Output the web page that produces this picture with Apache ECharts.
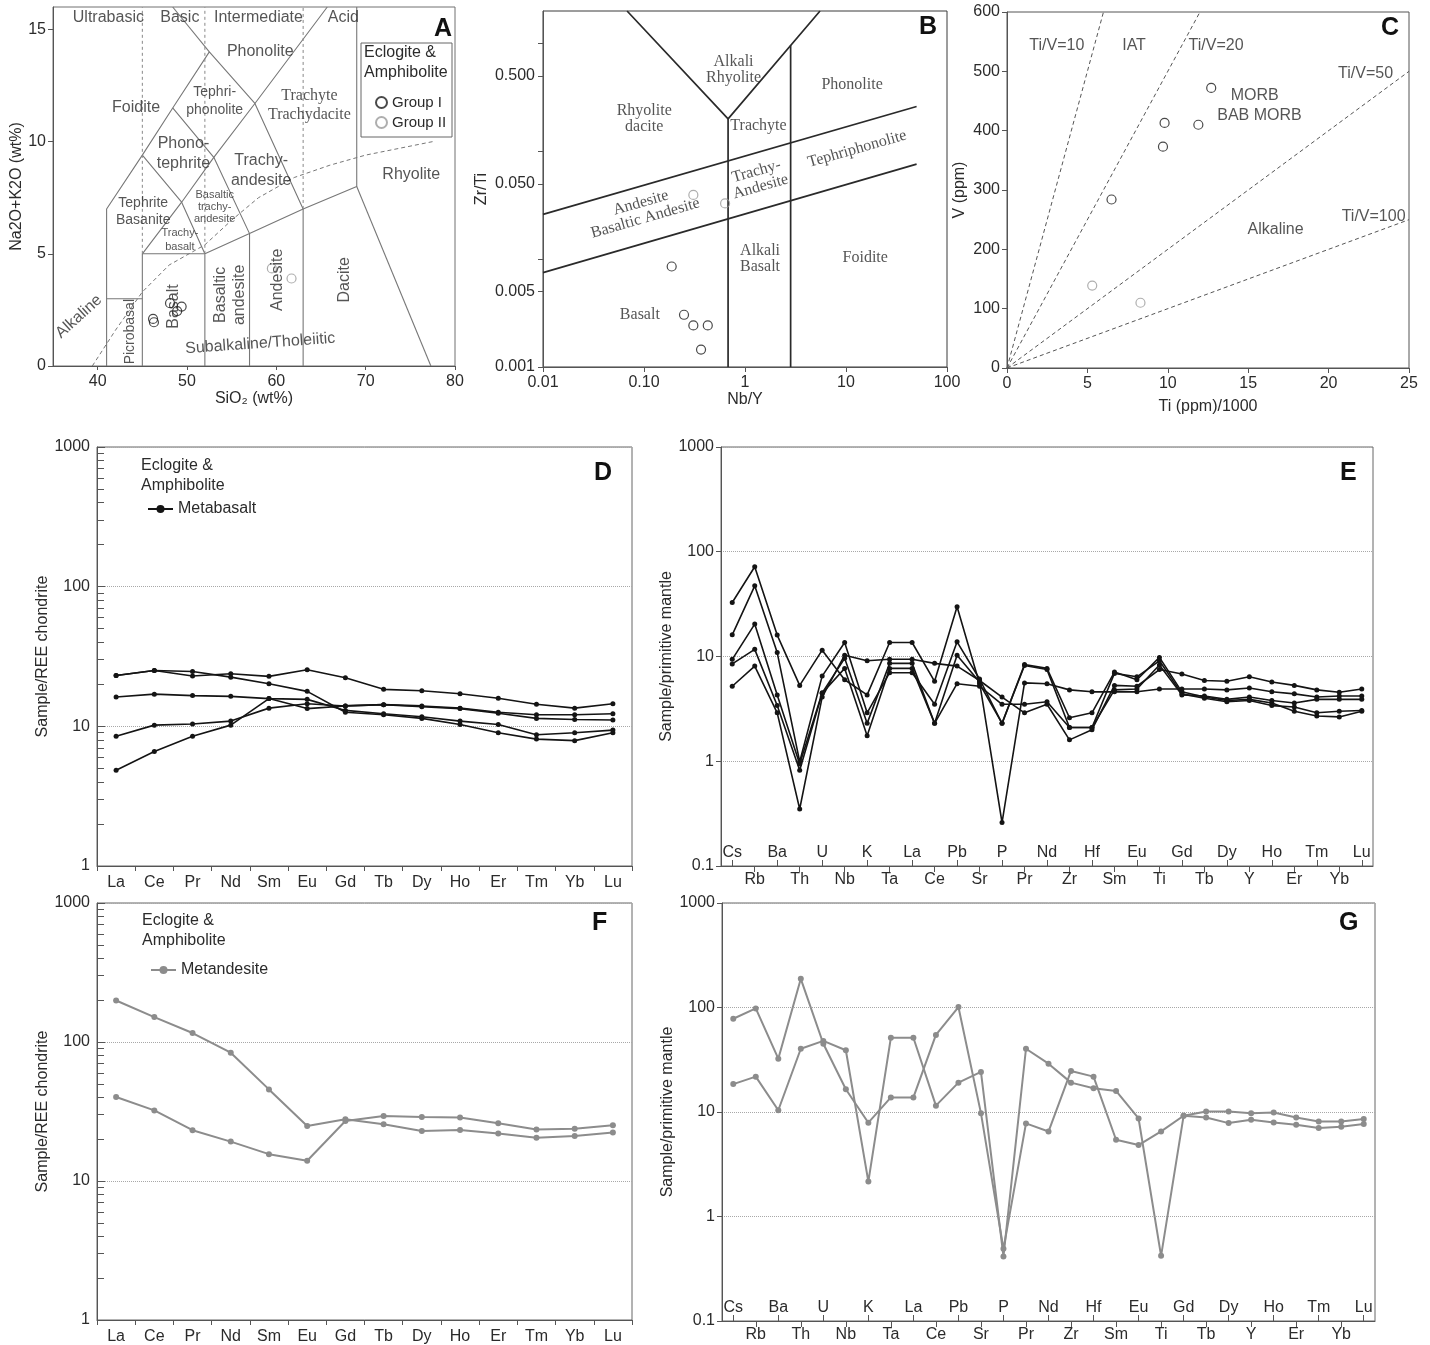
<!DOCTYPE html>
<html><head><meta charset="utf-8">
<script src="https://cdn.jsdelivr.net/npm/echarts@6/dist/echarts.min.js"></script>
<style>html,body{margin:0;padding:0;background:#fff}#c{width:1430px;height:1345px}</style>
</head><body><div id="c"></div>
<script>
// ================= DATA =================
// Panel A : TAS diagram (SiO2 vs Na2O+K2O)
const tasGroupI = [[46.2,2.1],[46.3,1.95],[48.1,2.8],[49.4,2.65],[48.9,2.45]];
const tasGroupII = [[59.5,4.35],[61.7,3.9]];
const tasBoundaries = [
  [[41,0],[41,7],[45,9.4],[48.4,11.5],[52.5,14],[57.6,11.7],[63,7]],
  [[41,3],[45,3]],
  [[45,0],[45,5],[52,5]],
  [[45,5],[49.4,7.3],[53,9.3],[57.6,11.7],[65.7,16]],
  [[45,9.4],[49.4,7.3],[52,5]],
  [[48.4,11.5],[53,9.3],[57,5.9]],
  [[52,0],[52,5],[57,5.9],[63,7],[69,8],[69,16]],
  [[57,0],[57,5.9]],
  [[63,0],[63,7]],
  [[69,8],[77.3,0]],
  [[52.5,14],[48.4,16]]
];
const tasSilicaDivisions = [[[45,5],[45,16]],[[52,5],[52,16]],[[63,7],[63,16]]];
const tasAlkalineDivide = [[39.4,0],[42,1.6],[45,3.3],[48,4.5],[52,5.4],[55,6.5],[58,7.5],[62,8.4],[66,8.95],[70,9.4],[77.5,10]];
const tasClassNames = [['Ultrabasic',41.2,15.55],['Basic',49.2,15.55],['Intermediate',58.0,15.55],['Acid',67.5,15.55]];
const tasFieldNames = [
  ['Phonolite',58.2,14.0],['Foidite',44.3,11.5],['Tephri-\nphonolite',53.1,11.8],
  ['Trachyte\nTrachydacite',63.7,11.6],['Phono-\ntephrite',49.6,9.45],['Trachy-\nandesite',58.3,8.72],
  ['Rhyolite',75.1,8.53],['Tephrite\nBasanite',45.1,6.89],['Basaltic\ntrachy-\nandesite',53.1,7.07],
  ['Trachy-\nbasalt',49.2,5.62],['Picrobasal',43.6,1.53],['Basalt',48.5,2.65],
  ['Basaltic\nandesite',54.8,3.17],['Andesite',60.1,3.84],['Dacite',67.65,3.84],
  ['Alkaline',37.9,2.2],['Subalkaline/Tholeiitic',58.2,1.0]
];

// Panel B : Zr/Ti vs Nb/Y
const wfGroupI = [[0.188,0.00855],[0.249,0.00305],[0.308,0.00243],[0.428,0.00243],[0.367,0.00145]];
const wfGroupII = [[0.308,0.0394],[0.635,0.0329]];
const wfBoundaries = [
  [[0.068,2],[0.68,0.2],[5.53,2]],
  [[0.68,0.2],[0.68,0.001]],
  [[2.83,0.957],[2.83,0.001]],
  [[0.01,0.026],[50,0.26]],
  [[0.01,0.0075],[50,0.076]]
];
const wfFieldNames = [
  ['Alkali\nRhyolite',0.77,0.575],['Rhyolite\ndacite',0.1005,0.199],['Phonolite',11.5,0.412],
  ['Trachyte',1.36,0.172],['Andesite\nBasaltic Andesite',0.098,0.0282],['Trachy-\nAndesite',1.36,0.0553],
  ['Tephriphonolite',12.9,0.105],['Alkali\nBasalt',1.41,0.0101],['Foidite',15.5,0.0103],['Basalt',0.091,0.00305]
];
const wfXTicks = [0.01,0.1,1,10,100];
const wfYLabels = [0.001,0.005,0.05,0.5];
const wfYTicks = [0.001,0.005,0.01,0.05,0.1,0.5,1];

// Panel C : V vs Ti/1000
const tivGroupI = [[6.5,284],[9.8,413],[9.7,373],[11.9,410],[12.7,472]];
const tivGroupII = [[5.3,139],[8.3,110]];
const tiv10 = [[0,0],[6,600]];
const tiv20 = [[0,0],[12,600]];
const tiv50 = [[0,0],[25,500]];
const tiv100 = [[0,0],[25,250]];
const tivFieldNames = [
  ['Ti/V=10',3.1,544],['IAT',7.9,544],['Ti/V=20',13.0,544],['Ti/V=50',22.3,497],
  ['MORB',15.4,459],['BAB MORB',15.7,426],['Alkaline',16.7,234],['Ti/V=100',22.8,256]
];

// Panel D / F : chondrite-normalised REE
const REE = ['La','Ce','Pr','Nd','Sm','Eu','Gd','Tb','Dy','Ho','Er','Tm','Yb','Lu'];
const reeBasalt1 = [23.1,25.1,22.9,23.8,22.8,25.4,22.3,18.4,18.0,17.1,15.9,14.4,13.5,14.5];
const reeBasalt2 = [23.1,25.1,24.7,22.5,20.2,17.8,12.6,12.1,11.4,10.3,9.0,8.1,7.9,9.0];
const reeBasalt3 = [16.2,17.0,16.6,16.4,15.8,15.6,13.0,12.3,11.7,10.9,10.3,8.7,9.0,9.4];
const reeBasalt4 = [8.5,10.2,10.4,10.9,13.5,14.5,14.0,14.3,14.0,13.5,12.6,12.1,12.1,12.3];
const reeBasalt5 = [4.85,6.6,8.5,10.2,15.8,13.4,14.0,14.3,13.8,13.4,12.4,11.4,11.2,11.1];
const reeAndesite1 = [199,151,116,83.8,45.6,24.9,27.8,25.6,22.9,23.3,22.0,20.5,21.1,22.3];
const reeAndesite2 = [40.2,32.2,23.2,19.2,15.6,14.0,27.0,29.4,28.9,28.6,26.0,23.5,23.8,25.2];
const reeYLabels = [1,10,100,1000];
const reeYMinorTicks = [2,3,4,5,6,7,8,9,20,30,40,50,60,70,80,90,200,300,400,500,600,700,800,900];

// Panel E / G : primitive-mantle-normalised spider diagrams
const ELEM = ['Cs','Rb','Ba','Th','U','Nb','K','Ta','La','Ce','Pb','Sr','P','Pr','Nd','Zr','Hf','Sm','Eu','Ti','Gd','Tb','Dy','Y','Ho','Er','Tm','Yb','Lu'];
const pmBasalt1 = [32.8,71.9,16.0,5.3,11.5,6.0,4.3,13.6,13.6,5.8,29.8,5.5,2.3,8.4,7.7,2.6,2.9,7.1,6.0,9.8,4.6,4.1,3.8,3.9,3.6,3.0,2.7,2.65,3.0];
const pmBasalt2 = [16.1,47.3,10.9,0.99,6.5,13.6,2.9,7.0,7.0,3.5,13.8,6.1,2.3,8.2,7.5,2.1,2.1,6.9,6.4,9.1,4.4,4.0,3.7,3.8,3.4,3.3,2.9,3.0,3.05];
const pmBasalt3 = [9.4,20.4,4.3,0.94,4.5,9.6,2.3,8.6,8.6,2.3,10.3,5.7,0.26,5.6,5.5,4.8,4.6,4.6,4.6,4.9,4.9,4.9,4.8,5.0,4.6,4.4,4.1,4.2,4.2];
const pmBasalt4 = [8.5,11.7,3.4,0.82,4.45,7.7,1.75,7.7,7.7,2.3,5.5,5.2,3.5,3.5,3.7,2.1,2.1,4.8,4.9,8.3,4.3,4.2,3.9,4.1,3.8,3.6,3.9,3.9,3.9];
const pmBasalt5 = [5.2,8.1,2.9,0.35,4.1,10.3,9.1,9.4,9.4,8.6,8.1,5.9,4.1,2.9,3.5,1.6,2.0,5.3,5.2,7.5,6.8,5.9,5.8,6.4,5.7,5.3,4.8,4.55,4.9];
const pmAndesite1 = [78.1,97.9,32.4,188,45,16.5,7.9,13.8,13.8,54.6,101,9.75,0.49,7.78,6.5,24.7,21.8,5.43,4.83,6.52,9.2,10.1,10.1,9.75,9.9,8.87,8.13,8.13,8.55];
const pmAndesite2 = [18.5,21.8,10.4,40.3,47.9,39.0,2.16,51.4,51.4,11.5,19.1,24.2,0.415,40.3,29.0,19.1,16.9,15.9,8.67,0.42,9.2,8.87,7.83,8.43,7.94,7.55,7.02,7.22,7.66];
const pmYLabels = [0.1,1,10,100,1000];

// ================= STYLE / LAYOUT =================
const SANS = '"Liberation Sans", Arial, Helvetica, sans-serif';
const SERIF = '"Liberation Serif", "Times New Roman", serif';
const TXT = '#2b2b2b';
const AX = '#555';
const BLACK = '#1c1c1c';
const GREY_PT = '#9a9a9a';
const GREY_LN = '#8c8c8c';

const tasLabelStyle = {
  'Tephri-\nphonolite': {fontSize:14, lineHeight:18},
  'Trachyte\nTrachydacite': {fontFamily:SERIF, fontSize:16, lineHeight:19},
  'Phono-\ntephrite': {lineHeight:20},
  'Trachy-\nandesite': {lineHeight:20},
  'Tephrite\nBasanite': {fontSize:14, lineHeight:17},
  'Basaltic\ntrachy-\nandesite': {fontSize:11, lineHeight:12},
  'Trachy-\nbasalt': {fontSize:11, lineHeight:14},
  'Picrobasal': {rotate:90, fontSize:14},
  'Basalt': {rotate:90},
  'Basaltic\nandesite': {rotate:90, lineHeight:19},
  'Andesite': {rotate:90},
  'Dacite': {rotate:90},
  'Alkaline': {rotate:42},
  'Subalkaline/Tholeiitic': {rotate:4}
};
const wfLabelStyle = {
  'Andesite\nBasaltic Andesite': {rotate:16},
  'Trachy-\nAndesite': {rotate:16},
  'Tephriphonolite': {rotate:16}
};

function textSeries(xi, yi, items, styleMap, family) {
  return {
    type:'scatter', xAxisIndex:xi, yAxisIndex:yi, silent:true, z:6, symbolSize:1,
    itemStyle:{color:'transparent'},
    label:{show:true, position:'inside', formatter:p => p.data.text, color:TXT,
           fontFamily:family, fontSize:16, lineHeight:16},
    data: items.map(([t,x,y]) => {
      const d = {value:[x,y], text:t};
      if (styleMap && styleMap[t]) d.label = styleMap[t];
      return d;
    })
  };
}
function polySeries(xi, yi, pts, color, width, type) {
  return {type:'line', xAxisIndex:xi, yAxisIndex:yi, data:pts, symbol:'none', silent:true, z:2,
          lineStyle:{color, width, type:type||'solid'}};
}
function groupSeries(name, xi, yi, pts, color) {
  return {type:'scatter', name, xAxisIndex:xi, yAxisIndex:yi, data:pts, symbol:'circle', symbolSize:9, z:4,
          itemStyle:{color:'rgba(255,255,255,0)', borderColor:color, borderWidth:1.2}};
}
function spiderSeries(name, xi, yi, vals, color, w, s) {
  return {type:'line', name, xAxisIndex:xi, yAxisIndex:yi, data:vals, symbol:'circle', symbolSize:s,
          showSymbol:true, z:4, lineStyle:{color, width:w}, itemStyle:{color}};
}

const lab = (extra) => Object.assign({color:TXT, fontSize:16, fontFamily:SANS}, extra||{});
const axLine = {show:true, onZero:false, lineStyle:{color:AX, width:1}};
const nameStyle = {fontSize:16, color:TXT, fontFamily:SANS};

function reeXAxis(gi) {
  return {gridIndex:gi, type:'category', data:REE, boundaryGap:true, position:'bottom',
    axisLine:axLine, axisTick:{show:true, length:5, lineStyle:{color:AX}},
    axisLabel:lab({margin:9, interval:0}), splitLine:{show:false}};
}
function reeYAxis(gi) {
  return {gridIndex:gi, type:'log', logBase:10, min:1, max:1000, position:'left',
    axisLine:axLine, axisTick:{show:true, inside:true, length:8, lineStyle:{color:AX}},
    axisLabel:lab({customValues:reeYLabels, margin:7, formatter:v => String(Math.round(v))}),
    splitLine:{show:true, lineStyle:{type:'dotted', color:'#a8a8a8', width:1}},
    name:'Sample/REE chondrite', nameLocation:'middle', nameGap:44, nameTextStyle:nameStyle};
}
function reeMinorYAxis(gi) {
  return {gridIndex:gi, type:'log', logBase:10, min:1, max:1000, position:'left',
    axisLine:{show:false}, axisLabel:{show:false}, splitLine:{show:false},
    axisTick:{show:true, inside:true, length:7, customValues:reeYMinorTicks, lineStyle:{color:AX}}};
}
function pmXAxes(gi) {
  return [
    {gridIndex:gi, type:'category', data:ELEM, boundaryGap:true, position:'bottom',
     axisLine:axLine, axisTick:{show:true, alignWithLabel:true, length:6, interval:(i)=>i%2===1, lineStyle:{color:AX}},
     axisLabel:lab({margin:6, interval:(i)=>i%2===1}), splitLine:{show:false}},
    {gridIndex:gi, type:'category', data:ELEM, boundaryGap:true, position:'bottom',
     axisLine:{show:false, onZero:false}, axisTick:{show:true, inside:true, alignWithLabel:true, length:6, interval:(i)=>i%2===0, lineStyle:{color:AX}},
     axisLabel:lab({inside:true, margin:5, interval:(i)=>i%2===0}), splitLine:{show:false}}
  ];
}
function pmYAxis(gi) {
  return {gridIndex:gi, type:'log', logBase:10, min:0.1, max:1000,
    axisLine:axLine, axisTick:{show:true, length:5, lineStyle:{color:AX}},
    axisLabel:lab({customValues:pmYLabels, margin:7, formatter:v => v < 0.5 ? '0.1' : String(Math.round(v))}),
    splitLine:{show:true, lineStyle:{type:'dotted', color:'#a8a8a8', width:1}},
    name:'Sample/primitive mantle', nameLocation:'middle', nameGap:38, nameTextStyle:nameStyle};
}

const grid = [
  {left:53, top:7, width:402, height:359, show:true, borderColor:'#707070', borderWidth:1, backgroundColor:'transparent'},
  {left:543, top:11, width:404, height:356, show:true, borderColor:'#3a3a3a', borderWidth:1, backgroundColor:'transparent'},
  {left:1007, top:12, width:402, height:356, show:true, borderColor:'#555', borderWidth:1, backgroundColor:'transparent'},
  {left:97, top:447, width:535, height:419, show:true, borderColor:'#666', borderWidth:1, backgroundColor:'transparent'},
  {left:721, top:447, width:652, height:419, show:true, borderColor:'#666', borderWidth:1, backgroundColor:'transparent'},
  {left:97, top:903, width:535, height:418, show:true, borderColor:'#666', borderWidth:1, backgroundColor:'transparent'},
  {left:722, top:903, width:653, height:418, show:true, borderColor:'#666', borderWidth:1, backgroundColor:'transparent'}
];

const xAxis = [
  // 0: A
  {gridIndex:0, type:'value', min:35, max:80, axisLine:axLine,
   axisTick:{show:true, customValues:[40,50,60,70,80], length:4, lineStyle:{color:AX}},
   axisLabel:lab({customValues:[40,50,60,70,80], margin:8}), splitLine:{show:false},
   name:'SiO₂ (wt%)', nameLocation:'middle', nameGap:24, nameTextStyle:nameStyle},
  // 1: B
  {gridIndex:1, type:'log', logBase:10, min:0.01, max:100, axisLine:axLine,
   axisTick:{show:true, customValues:wfXTicks, length:5, lineStyle:{color:AX}},
   axisLabel:lab({customValues:wfXTicks, margin:8, formatter:v => v < 0.05 ? '0.01' : (v < 0.5 ? '0.10' : String(Math.round(v)))}),
   splitLine:{show:false}, name:'Nb/Y', nameLocation:'middle', nameGap:25, nameTextStyle:nameStyle},
  // 2: C
  {gridIndex:2, type:'value', min:0, max:25, interval:5, axisLine:axLine,
   axisTick:{show:true, length:5, lineStyle:{color:AX}}, axisLabel:lab({margin:8}), splitLine:{show:false},
   name:'Ti (ppm)/1000', nameLocation:'middle', nameGap:31, nameTextStyle:nameStyle},
  // 3: D
  reeXAxis(3),
  // 4,5: E
  ...pmXAxes(4),
  // 6: F
  reeXAxis(5),
  // 7,8: G
  ...pmXAxes(6)
];

const yAxis = [
  // 0: A
  {gridIndex:0, type:'value', min:0, max:16, axisLine:axLine,
   axisTick:{show:true, customValues:[0,5,10,15], length:5, lineStyle:{color:AX}},
   axisLabel:lab({customValues:[0,5,10,15], margin:7}), splitLine:{show:false},
   name:'Na2O+K2O (wt%)', nameLocation:'middle', nameGap:27, nameTextStyle:nameStyle},
  // 1: B
  {gridIndex:1, type:'log', logBase:10, min:0.001, max:2, axisLine:axLine,
   axisTick:{show:true, customValues:wfYTicks, length:5, lineStyle:{color:AX}},
   axisLabel:lab({customValues:wfYLabels, margin:8, formatter:v => v.toFixed(3)}), splitLine:{show:false},
   name:'Zr/Ti', nameLocation:'middle', nameGap:53, nameTextStyle:nameStyle},
  // 2: C
  {gridIndex:2, type:'value', min:0, max:600, interval:100, axisLine:axLine,
   axisTick:{show:true, length:5, lineStyle:{color:AX}}, axisLabel:lab({margin:7}), splitLine:{show:false},
   name:'V (ppm)', nameLocation:'middle', nameGap:39, nameTextStyle:nameStyle},
  // 3: D
  reeYAxis(3),
  // 4: E
  pmYAxis(4),
  // 5: F
  reeYAxis(5),
  // 6: G
  pmYAxis(6),
  // 7, 8: minor ticks for D and F
  reeMinorYAxis(3),
  reeMinorYAxis(5)
];

const series = [];
// ---- A ----
tasBoundaries.forEach(p => series.push(polySeries(0,0,p,'#777',1.1)));
tasSilicaDivisions.forEach(p => series.push(polySeries(0,0,p,'#888',1,[3,3])));
series.push(polySeries(0,0,tasAlkalineDivide,'#777',1,[4,3]));
series.push(textSeries(0,0,tasClassNames,null,SANS));
series.push(textSeries(0,0,tasFieldNames,tasLabelStyle,SANS));
series.push(groupSeries('Group I',0,0,tasGroupI,BLACK));
series.push(groupSeries('Group II',0,0,tasGroupII,GREY_PT));
// ---- B ----
wfBoundaries.forEach(p => series.push(polySeries(1,1,p,'#2a2a2a',1.7)));
series.push(textSeries(1,1,wfFieldNames,wfLabelStyle,SERIF));
series.push(groupSeries('Group I',1,1,wfGroupI,BLACK));
series.push(groupSeries('Group II',1,1,wfGroupII,GREY_PT));
// ---- C ----
[tiv10,tiv20,tiv50,tiv100].forEach(p => series.push(polySeries(2,2,p,'#555',1,[4,3])));
series.push(textSeries(2,2,tivFieldNames,null,SANS));
series.push(groupSeries('Group I',2,2,tivGroupI,BLACK));
series.push(groupSeries('Group II',2,2,tivGroupII,GREY_PT));
// ---- D ----
[reeBasalt1,reeBasalt2,reeBasalt3,reeBasalt4,reeBasalt5].forEach(v => series.push(spiderSeries('Metabasalt',3,3,v,'#141414',1.6,5)));
// ---- E ----
[pmBasalt1,pmBasalt2,pmBasalt3,pmBasalt4,pmBasalt5].forEach(v => series.push(spiderSeries('Metabasalt',4,4,v,'#141414',1.6,5)));
// ---- F ----
[reeAndesite1,reeAndesite2].forEach(v => series.push(spiderSeries('Metandesite',6,5,v,GREY_LN,2,6)));
// ---- G ----
[pmAndesite1,pmAndesite2].forEach(v => series.push(spiderSeries('Metandesite',7,6,v,GREY_LN,2,6)));

const legendText = {fontSize:16, color:TXT, fontFamily:SANS};
const legend = [
  {data:['Group I','Group II'], left:370, top:90, orient:'vertical', itemWidth:11, itemHeight:11, itemGap:5,
   selectedMode:false, textStyle:{fontSize:15, color:TXT, fontFamily:SANS}},
  {data:['Metabasalt'], left:142, top:496, itemWidth:25, itemHeight:10, selectedMode:false, textStyle:legendText},
  {data:['Metandesite'], left:145, top:957, itemWidth:25, itemHeight:10, selectedMode:false, textStyle:legendText}
];

const letterFont = 'bold 25px ' + SANS;
const bodyFont = '16px ' + SANS;
const graphic = [
  {type:'rect', z:100, shape:{x:361, y:43, width:91, height:94}, style:{fill:'none', stroke:'#666', lineWidth:1}},
  {type:'text', z:100, left:364, top:43, style:{text:'Eclogite &\nAmphibolite', font:bodyFont, fill:TXT, lineHeight:20}},
  {type:'text', z:100, left:141, top:456, style:{text:'Eclogite &\nAmphibolite', font:bodyFont, fill:TXT, lineHeight:20}},
  {type:'text', z:100, left:142, top:911, style:{text:'Eclogite &\nAmphibolite', font:bodyFont, fill:TXT, lineHeight:20}},
  {type:'text', z:100, left:434, top:17, style:{text:'A', font:letterFont, fill:'#111'}},
  {type:'text', z:100, left:919, top:15, style:{text:'B', font:letterFont, fill:'#111'}},
  {type:'text', z:100, left:1381, top:16, style:{text:'C', font:letterFont, fill:'#111'}},
  {type:'text', z:100, left:594, top:461, style:{text:'D', font:letterFont, fill:'#111'}},
  {type:'text', z:100, left:1340, top:461, style:{text:'E', font:letterFont, fill:'#111'}},
  {type:'text', z:100, left:592, top:911, style:{text:'F', font:letterFont, fill:'#111'}},
  {type:'text', z:100, left:1339, top:911, style:{text:'G', font:letterFont, fill:'#111'}}
];

const chart = echarts.init(document.getElementById('c'), null, {renderer:'canvas'});
chart.setOption({
  animation:false, backgroundColor:'#fff',
  textStyle:{fontFamily:SANS},
  grid, xAxis, yAxis, series, legend, graphic
});
</script>
</body></html>
